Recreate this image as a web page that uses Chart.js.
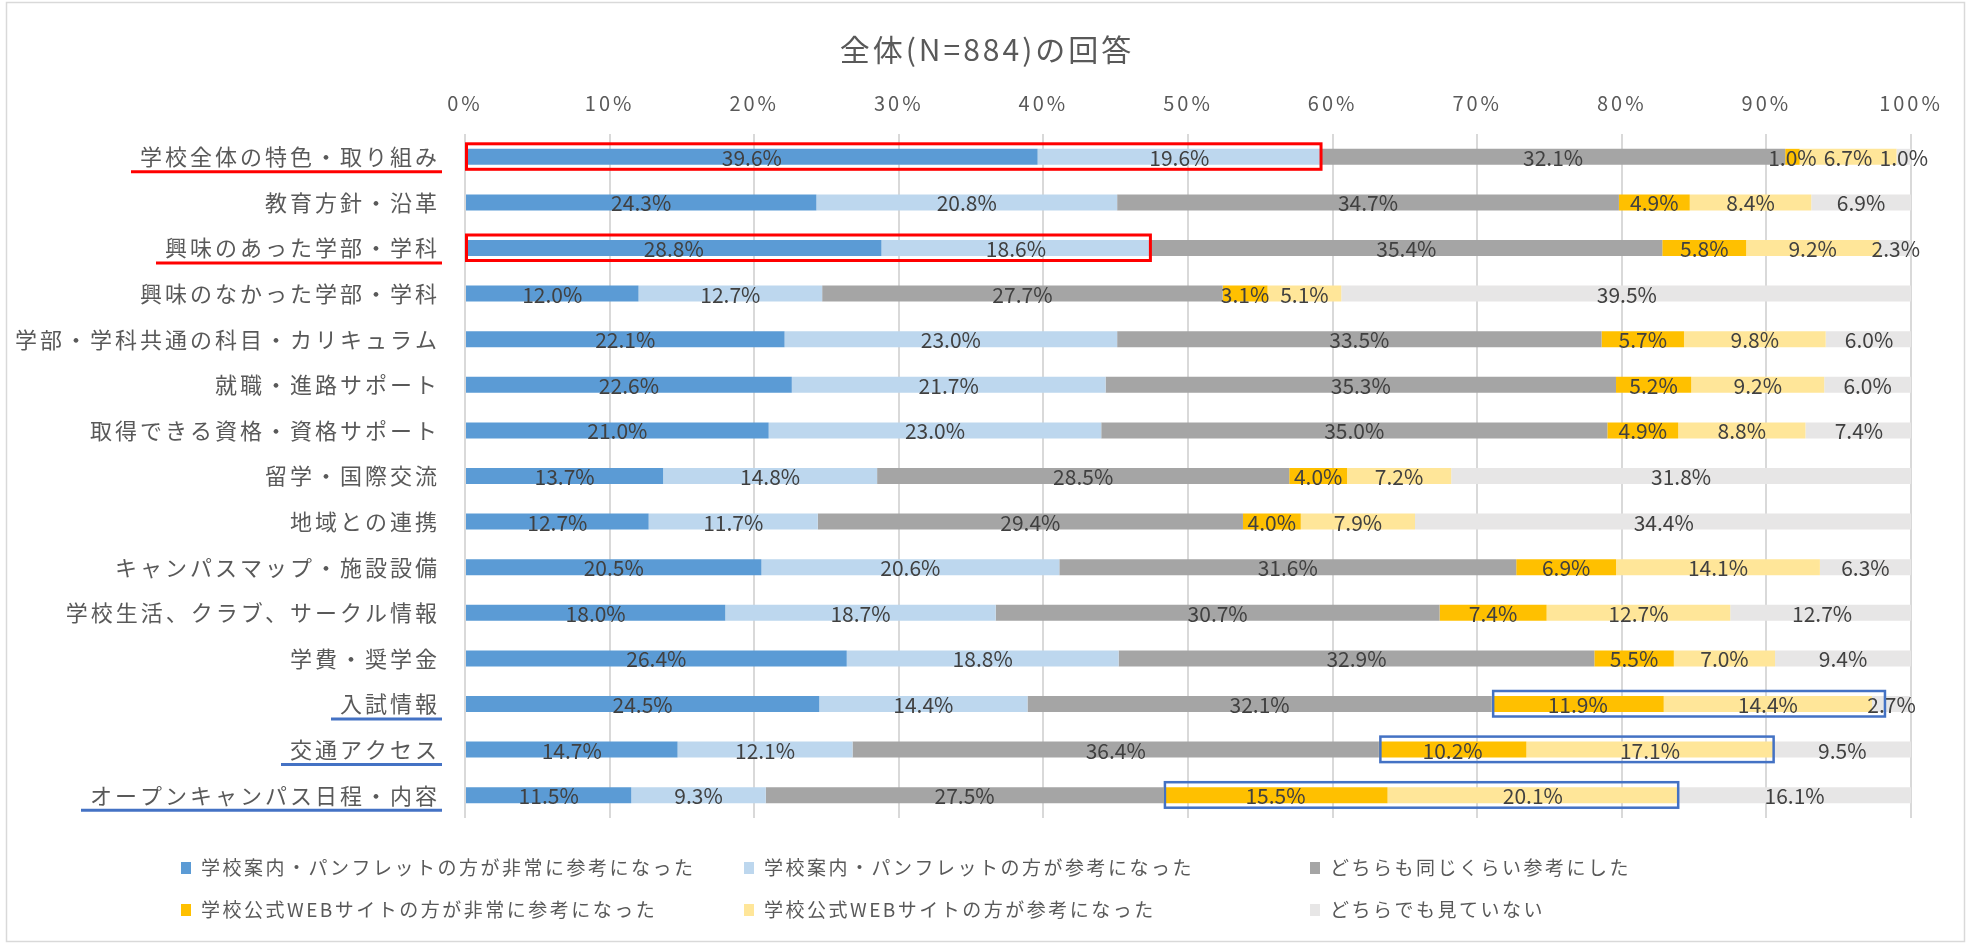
<!DOCTYPE html>
<html><head><meta charset="utf-8">
<script src="https://cdn.jsdelivr.net/npm/chart.js@4.4.1/dist/chart.umd.min.js"></script>
<style>html,body{margin:0;padding:0;background:#fff;overflow:hidden}canvas{display:block}</style>
</head><body>
<canvas id="c" width="1971" height="944"></canvas>
<script>
const titleText = '全体(N=884)の回答';
const categories = [
  '学校全体の特色・取り組み',
  '教育方針・沿革',
  '興味のあった学部・学科',
  '興味のなかった学部・学科',
  '学部・学科共通の科目・カリキュラム',
  '就職・進路サポート',
  '取得できる資格・資格サポート',
  '留学・国際交流',
  '地域との連携',
  'キャンパスマップ・施設設備',
  '学校生活、クラブ、サークル情報',
  '学費・奨学金',
  '入試情報',
  '交通アクセス',
  'オープンキャンパス日程・内容'
];
const seriesNames = [
  '学校案内・パンフレットの方が非常に参考になった',
  '学校案内・パンフレットの方が参考になった',
  'どちらも同じくらい参考にした',
  '学校公式WEBサイトの方が非常に参考になった',
  '学校公式WEBサイトの方が参考になった',
  'どちらでも見ていない'
];
const seriesColors = ['#5B9BD5', '#BDD7EE', '#A5A5A5', '#FFC000', '#FFE699', '#E7E6E6'];
const pamphletVery  = [39.6, 24.3, 28.8, 12.0, 22.1, 22.6, 21.0, 13.7, 12.7, 20.5, 18.0, 26.4, 24.5, 14.7, 11.5];
const pamphlet      = [19.6, 20.8, 18.6, 12.7, 23.0, 21.7, 23.0, 14.8, 11.7, 20.6, 18.7, 18.8, 14.4, 12.1,  9.3];
const bothSame      = [32.1, 34.7, 35.4, 27.7, 33.5, 35.3, 35.0, 28.5, 29.4, 31.6, 30.7, 32.9, 32.1, 36.4, 27.5];
const webVery       = [ 1.0,  4.9,  5.8,  3.1,  5.7,  5.2,  4.9,  4.0,  4.0,  6.9,  7.4,  5.5, 11.9, 10.2, 15.5];
const web           = [ 6.7,  8.4,  9.2,  5.1,  9.8,  9.2,  8.8,  7.2,  7.9, 14.1, 12.7,  7.0, 14.4, 17.1, 20.1];
const neither       = [ 1.0,  6.9,  2.3, 39.5,  6.0,  6.0,  7.4, 31.8, 34.4,  6.3, 12.7,  9.4,  2.7,  9.5, 16.1];
const seriesValues = [pamphletVery, pamphlet, bothSame, webVery, web, neither];
const xTickValues = [0, 10, 20, 30, 40, 50, 60, 70, 80, 90, 100];

// highlight annotations (row index, first and last series index)
const highlightBoxes = [
  {row: 0, from: 0, to: 1, color: '#FF0000', width: 3, extraRight: 0},
  {row: 2, from: 0, to: 1, color: '#FF0000', width: 3, extraRight: 0},
  {row: 12, from: 3, to: 4, color: '#4472C4', width: 2.5, extraRight: 13},
  {row: 13, from: 3, to: 4, color: '#4472C4', width: 2.5, extraRight: 0},
  {row: 14, from: 3, to: 4, color: '#4472C4', width: 2.5, extraRight: 0}
];
const underlines = [
  {row: 0, color: '#FF0000'},
  {row: 2, color: '#FF0000'},
  {row: 12, color: '#4472C4'},
  {row: 13, color: '#4472C4'},
  {row: 14, color: '#4472C4'}
];

const FONT = '"Noto Sans CJK JP", "Noto Sans", sans-serif';
const TEXT = '#595959';
const Y_PAD = 25;

const datasets = seriesValues.map((d, i) => ({
  label: seriesNames[i],
  data: d,
  backgroundColor: seriesColors[i],
  borderWidth: 0,
  barPercentage: 0.35,
  categoryPercentage: 1
}));

const spacingPlugin = {
  id: 'spacing',
  beforeDraw(chart) { chart.ctx.letterSpacing = '3px'; },
  beforeDatasetsDraw(chart) { chart.ctx.letterSpacing = '0px'; }
};

const dataLabelPlugin = {
  id: 'dataLabels',
  afterDatasetsDraw(chart) {
    const ctx = chart.ctx;
    ctx.save();
    ctx.letterSpacing = '0px';
    ctx.font = '21px ' + FONT;
    ctx.fillStyle = '#404040';
    ctx.textAlign = 'center';
    ctx.textBaseline = 'middle';
    chart.data.datasets.forEach((ds, i) => {
      const meta = chart.getDatasetMeta(i);
      meta.data.forEach((bar, j) => {
        const v = ds.data[j];
        ctx.fillText(v.toFixed(1) + '%', (bar.x + bar.base) / 2, bar.y + 1);
      });
    });
    ctx.restore();
  }
};

const decorPlugin = {
  id: 'decor',
  afterDraw(chart) {
    const ctx = chart.ctx;
    const xs = chart.scales.x, ys = chart.scales.y;
    ctx.save();
    // outer border
    ctx.strokeStyle = '#D9D9D9';
    ctx.lineWidth = 1.5;
    ctx.strokeRect(6.5, 2.5, 1958, 939);
    // title
    ctx.letterSpacing = '3px';
    ctx.font = '30px ' + FONT;
    ctx.fillStyle = TEXT;
    ctx.textAlign = 'center';
    ctx.textBaseline = 'middle';
    ctx.fillText(titleText, 987, 50);
    // boxes
    highlightBoxes.forEach(b => {
      let s = 0;
      for (let k = 0; k < b.from; k++) s += seriesValues[k][b.row];
      let e = s;
      for (let k = b.from; k <= b.to; k++) e += seriesValues[k][b.row];
      const x0 = xs.getPixelForValue(s) + 1.5;
      const x1 = xs.getPixelForValue(e) + b.extraRight;
      const cy = ys.getPixelForValue(b.row);
      ctx.strokeStyle = b.color;
      ctx.lineWidth = b.width;
      ctx.strokeRect(x0, cy - 13, x1 - x0, 25.5);
    });
    // underlines
    ctx.font = '22px ' + FONT;
    ctx.letterSpacing = '3px';
    const right = chart.chartArea.left - Y_PAD;
    underlines.forEach(u => {
      const w = ctx.measureText(categories[u.row]).width;
      const cy = ys.getPixelForValue(u.row);
      ctx.strokeStyle = u.color;
      ctx.lineWidth = 3;
      ctx.beginPath();
      ctx.moveTo(right - w - 9, cy + 15);
      ctx.lineTo(right + 2, cy + 15);
      ctx.stroke();
    });
    // legend
    const colX = [181, 744, 1310];
    const rowY = [868, 910];
    ctx.font = '19px ' + FONT;
    ctx.letterSpacing = '2.5px';
    ctx.textAlign = 'left';
    ctx.textBaseline = 'middle';
    chart.data.datasets.forEach((ds, i) => {
      const cx = colX[i % 3], cy = rowY[Math.floor(i / 3)];
      ctx.fillStyle = ds.backgroundColor;
      ctx.fillRect(cx, cy - 6, 10, 12);
      ctx.fillStyle = TEXT;
      ctx.fillText(ds.label, cx + 20, cy);
    });
    ctx.restore();
  }
};

new Chart(document.getElementById('c'), {
  type: 'bar',
  data: { labels: categories, datasets },
  options: {
    indexAxis: 'y',
    responsive: false,
    animation: false,
    devicePixelRatio: 1,
    layout: { padding: { top: 78, right: 60, bottom: 126, left: 0 } },
    plugins: { legend: { display: false }, title: { display: false }, tooltip: { enabled: false } },
    scales: {
      x: {
        position: 'top', stacked: true, min: 0, max: 100, z: 1,
        afterBuildTicks: s => { s.ticks = xTickValues.map(v => ({ value: v })); },
        ticks: { callback: v => v + '%', color: TEXT, font: { family: FONT, size: 20 }, padding: 19, maxRotation: 0 },
        grid: { color: '#D9D9D9', lineWidth: 2, drawTicks: false, z: -1 },
        border: { display: false },
        afterFit: s => { s.height = 56; }
      },
      y: {
        stacked: true,
        ticks: { color: TEXT, font: { family: FONT, size: 22 }, padding: Y_PAD, autoSkip: false },
        grid: { display: false, drawTicks: false },
        border: { display: false },
        afterFit: s => { s.width = 465; }
      }
    }
  },
  plugins: [spacingPlugin, dataLabelPlugin, decorPlugin]
});
</script>
</body></html>
